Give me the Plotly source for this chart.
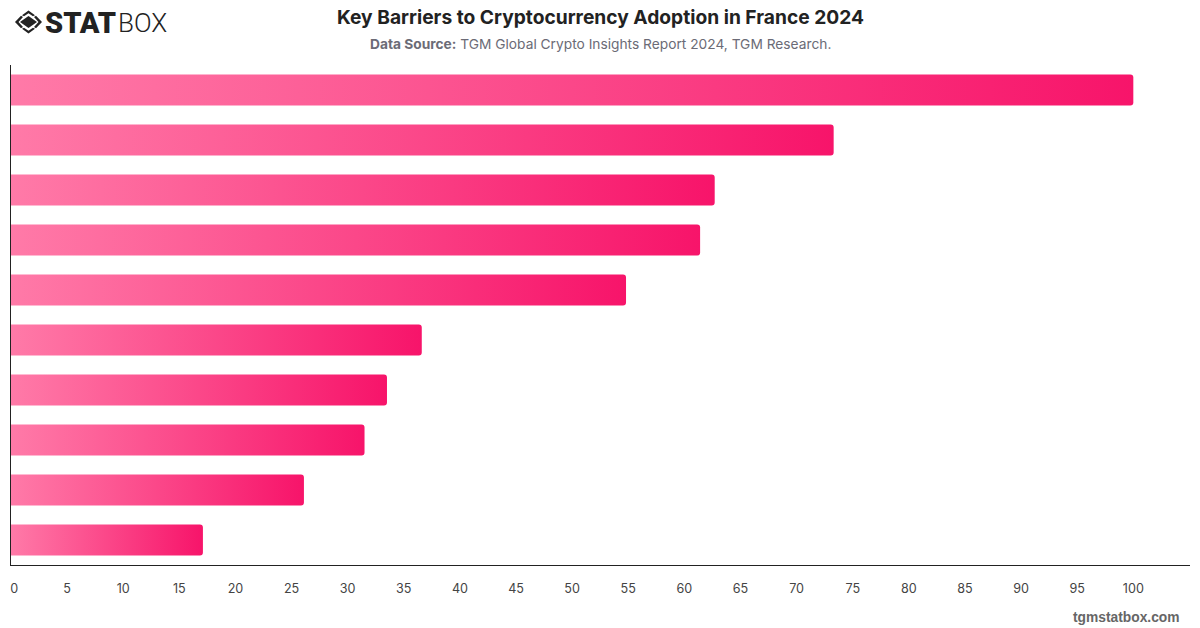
import plotly.graph_objects as go

# Barrier rank, top to bottom, and the share reported for each one
ranks = [1, 2, 3, 4, 5, 6, 7, 8, 9, 10]
values = [100, 73.3, 62.7, 61.4, 54.8, 36.6, 33.5, 31.5, 26.1, 17.1]
tick_vals = list(range(0, 105, 5))
tick_text = ["\u2002" + "0"] + [str(v) for v in tick_vals[1:]]

TITLE = "<b>Key Barriers to Cryptocurrency Adoption in France 2024</b>"
SOURCE = "<b>Data Source:</b> TGM Global Crypto Insights Report 2024, TGM Research."

W, H = 1200, 628
M_L, M_R, M_T, M_B = 11, 10, 65, 63
PLOT_W, PLOT_H = W - M_L - M_R, H - M_T - M_B


def px_x(x):
    return (x - M_L) / PLOT_W


def px_y(y):
    return 1 - (y - M_T) / PLOT_H


def logo_path(points):
    return "M" + " L".join(f"{px_x(x):.5f},{px_y(y):.5f}" for x, y in points) + " Z"


fig = go.Figure(
    go.Bar(
        x=values,
        y=ranks,
        orientation="h",
        width=0.62,
        marker=dict(color="#f7166a", cornerradius=3, line=dict(width=0)),
        hoverinfo="x",
    )
)

ink = "#222222"
# Logo mark: solid inner diamond between two chevrons
logo_shapes = [
    [(28.5, 16), (37, 22), (28.5, 28), (20, 22)],
    [(28.5, 10.5), (35, 15.2), (33, 16.3), (28.5, 13.2), (24, 16.3), (22, 15.2)],
    [(28.5, 33.5), (35, 28.8), (33, 27.7), (28.5, 30.8), (24, 27.7), (22, 28.8)],
    [(21, 15.8), (23, 17), (18.5, 22), (23, 27), (21, 28.2), (15, 22)],
    [(36, 15.8), (34, 17), (38.5, 22), (34, 27), (36, 28.2), (42, 22)],
]
shapes = [
    dict(type="path", xref="paper", yref="paper", path=logo_path(p),
         fillcolor=ink, line=dict(width=0), layer="above")
    for p in logo_shapes
]


def note(x, y, text, size, color, family="Inter", weight=None, anchor="center"):
    return dict(
        xref="paper", yref="paper", x=px_x(x), y=px_y(y), text=text, showarrow=False,
        xanchor=anchor, yanchor="middle", align=anchor,
        font=dict(family=family, size=size, color=color, weight=weight),
    )


annotations = [
    note(600, 17, TITLE, 19.2, "#222222"),
    note(600, 44, SOURCE, 13.75, "#6b6b76"),
    note(1182, 617, "<b>tgmstatbox.com</b>", 13.8, "#666666", family="Liberation Sans", anchor="right"),
    note(42.5, 23, "STAT", 29, ink, family="Roboto", weight=900, anchor="left"),
    note(115.5, 23, "BOX", 26, ink, family="Roboto", weight=300, anchor="left"),
]

fig.update_layout(
    width=W,
    height=H,
    margin=dict(l=M_L, r=M_R, t=M_T, b=M_B, pad=0),
    paper_bgcolor="white",
    plot_bgcolor="white",
    showlegend=False,
    shapes=shapes,
    annotations=annotations,
    xaxis=dict(
        automargin=False,
        range=[0, 105.05],
        tickmode="array",
        tickvals=tick_vals,
        ticktext=tick_text,
        showgrid=False,
        zeroline=False,
        showline=True,
        linecolor=ink,
        linewidth=1,
        ticks="",
        ticklabelstandoff=12,
        tickfont=dict(family="Inter", size=12.6, color="#444444"),
    ),
    yaxis=dict(
        automargin=False,
        range=[10.5, 0.5],
        showticklabels=False,
        showgrid=False,
        zeroline=False,
        showline=True,
        linecolor=ink,
        linewidth=1,
        ticks="",
    ),
)

# Each bar fades from light to deep pink along its own length
gradient_script = """
var gd = document.getElementById('{plot_id}');
var svg = gd.querySelector('svg.main-svg');
var ns = 'http://www.w3.org/2000/svg';
var grad = document.createElementNS(ns, 'linearGradient');
grad.setAttribute('id', 'barFade');
[['0%', '#ff7aa8'], ['100%', '#f7146a']].forEach(function (s) {
  var stop = document.createElementNS(ns, 'stop');
  stop.setAttribute('offset', s[0]);
  stop.setAttribute('stop-color', s[1]);
  grad.appendChild(stop);
});
var defs = svg.querySelector('defs') || svg.insertBefore(document.createElementNS(ns, 'defs'), svg.firstChild);
defs.appendChild(grad);
gd.querySelectorAll('.bars .point path').forEach(function (p) {
  p.style.fill = 'url(#barFade)';
});
"""

fig.write_html("out.html", post_script=gradient_script, config={"displayModeBar": False})
